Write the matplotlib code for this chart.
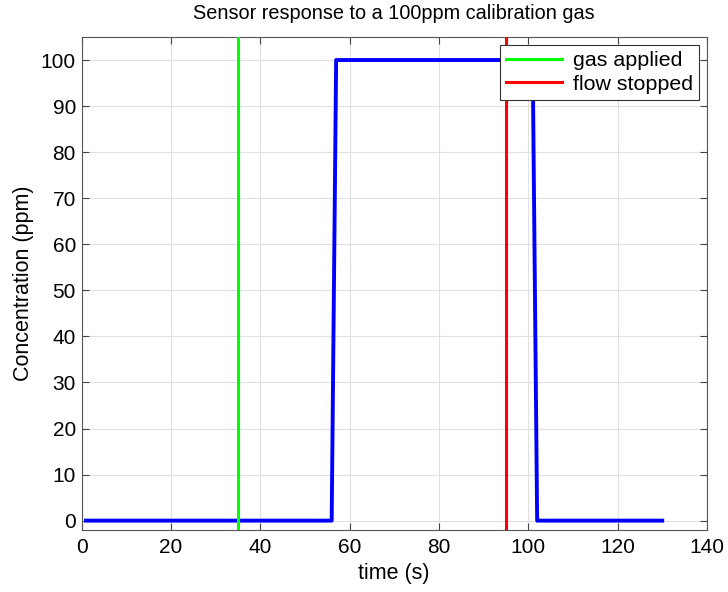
import matplotlib
matplotlib.use("Agg")
import matplotlib.pyplot as plt

plt.rcParams['font.family'] = ['Liberation Sans', 'DejaVu Sans']

# sensor trace
time_s = [1, 56, 57, 101, 102, 130]
conc_ppm = [0, 0, 100, 100, 0, 0]

# event markers
gas_applied_t = 35
flow_stopped_t = 95

xticks = [0, 20, 40, 60, 80, 100, 120, 140]
yticks = [0, 10, 20, 30, 40, 50, 60, 70, 80, 90, 100]

fig = plt.figure(figsize=(7.28, 5.92), dpi=100)
ax = fig.add_axes([0.112, 0.105, 0.859, 0.8325])

ax.plot(time_s, conc_ppm, color='#0000ff', lw=2.8, zorder=3)
ax.axvline(gas_applied_t, color='#00ff00', lw=2.2, label='gas applied', zorder=4)
ax.axvline(flow_stopped_t, color='#ff0000', lw=2.2, label='flow stopped', zorder=4)

ax.set_xlim(0, 140)
ax.set_ylim(-2, 105)
ax.set_xticks(xticks)
ax.set_yticks(yticks)
ax.tick_params(direction='in', top=True, right=True, labelsize=15, length=5, color='#444444')
ax.tick_params(axis='x', pad=6)
ax.tick_params(axis='y', pad=4)
ax.grid(True, color='#e0e0e0', lw=0.8)
ax.set_axisbelow(True)
for sp in ax.spines.values():
    sp.set_color('#555555')

ax.set_xlabel('time (s)', fontsize=15.5, labelpad=4)
ax.set_ylabel('Concentration (ppm)', fontsize=15.5, labelpad=5)
ax.set_title('Sensor response to a 100ppm calibration gas', fontsize=14.3, pad=13)

leg = ax.legend(loc='upper right', bbox_to_anchor=(0.991, 0.988), fontsize=15.4,
                fancybox=False, framealpha=1, edgecolor='#333333',
                handlelength=2.6, borderpad=0.3, labelspacing=0.2, handletextpad=0.5,
                borderaxespad=0.1)
leg.get_frame().set_linewidth(0.8)

fig.savefig('out.png', dpi=100)
